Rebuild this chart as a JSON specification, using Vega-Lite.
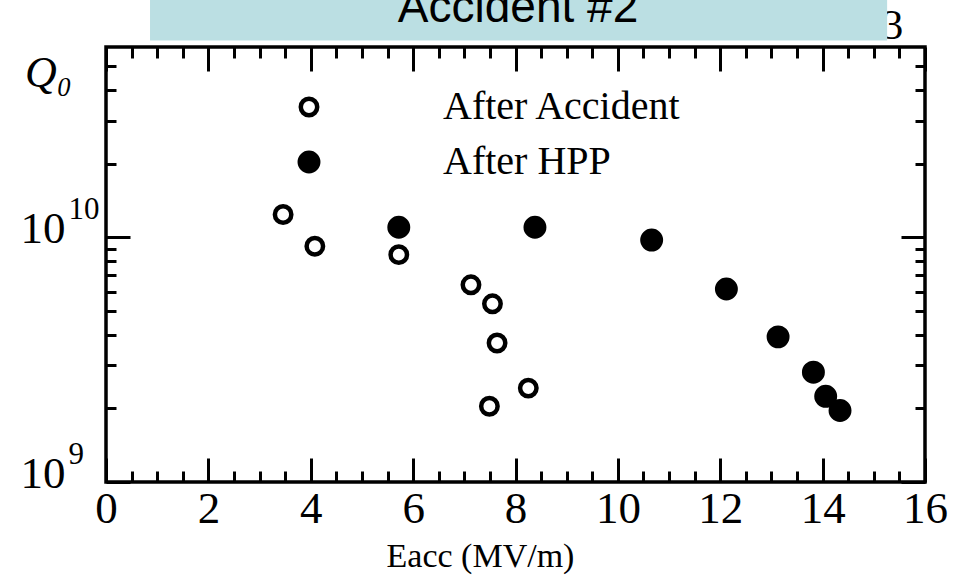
{
  "$schema": "https://vega.github.io/schema/vega-lite/v6.json",
  "width": 819,
  "height": 435,
  "autosize": {"type": "none"},
  "padding": {"left": 106, "top": 47, "right": 34, "bottom": 95},
  "background": "white",
  "config": {
    "view": {"stroke": "black", "strokeWidth": 3.5},
    "axis": {
      "grid": false,
      "domain": false,
      "labelFont": "Liberation Serif",
      "labelColor": "black",
      "labelFlush": false,
      "labelOverlap": false,
      "tickColor": "black",
      "tickWidth": 3,
      "titleFont": "Liberation Serif",
      "titleColor": "black",
      "titleFontWeight": "normal"
    }
  },
  "data": {
    "values": [
      {"E": 3.46, "Q0": 1.24e10, "series": "After Accident"},
      {"E": 4.08, "Q0": 9.2e9, "series": "After Accident"},
      {"E": 5.72, "Q0": 8.5e9, "series": "After Accident"},
      {"E": 7.13, "Q0": 6.4e9, "series": "After Accident"},
      {"E": 7.55, "Q0": 5.35e9, "series": "After Accident"},
      {"E": 7.64, "Q0": 3.7e9, "series": "After Accident"},
      {"E": 8.25, "Q0": 2.42e9, "series": "After Accident"},
      {"E": 7.49, "Q0": 2.04e9, "series": "After Accident"},
      {"E": 5.72, "Q0": 1.1e10, "series": "After HPP"},
      {"E": 8.38, "Q0": 1.1e10, "series": "After HPP"},
      {"E": 10.66, "Q0": 9.75e9, "series": "After HPP"},
      {"E": 12.12, "Q0": 6.15e9, "series": "After HPP"},
      {"E": 13.13, "Q0": 3.92e9, "series": "After HPP"},
      {"E": 13.82, "Q0": 2.81e9, "series": "After HPP"},
      {"E": 14.06, "Q0": 2.24e9, "series": "After HPP"},
      {"E": 14.34, "Q0": 1.96e9, "series": "After HPP"}
    ]
  },
  "resolve": {"axis": {"x": "independent", "y": "independent"}},
  "layer": [
    {
      "data": {"values": [{}]},
      "mark": {"type": "text", "text": "3", "font": "Liberation Serif", "fontSize": 42, "align": "center", "baseline": "alphabetic", "color": "black"},
      "encoding": {
        "x": {"datum": 15.37, "type": "quantitative", "axis": null},
        "y": {"datum": 6.45e10, "type": "quantitative", "axis": null}
      }
    },
    {
      "data": {"values": [{}]},
      "mark": {"type": "rect", "color": "#BBDFE3"},
      "encoding": {
        "x": {"datum": 0.86, "type": "quantitative", "axis": null},
        "x2": {"datum": 15.26},
        "y": {"datum": 6.375e10, "type": "quantitative", "axis": null},
        "y2": {"datum": 1.2e11}
      }
    },
    {
      "data": {"values": [{}]},
      "mark": {"type": "text", "text": "Accident #2", "font": "Liberation Sans", "fontSize": 46, "align": "center", "baseline": "alphabetic", "color": "black"},
      "encoding": {
        "x": {"datum": 8.05, "type": "quantitative", "axis": null},
        "y": {"datum": 7.6e10, "type": "quantitative", "axis": null}
      }
    },
    {
      "mark": {"type": "point", "shape": "circle", "filled": true, "strokeWidth": 4.5, "opacity": 1},
      "encoding": {
        "x": {
          "field": "E", "type": "quantitative",
          "scale": {"domain": [0, 16], "nice": false, "zero": false},
          "axis": {
            "orient": "bottom", "values": [0, 2, 4, 6, 8, 10, 12, 14, 16],
            "ticks": false, "labelFontSize": 45, "labelPadding": 4,
            "title": "Eacc (MV/m)", "titleFontSize": 34, "titleX": 374, "titleY": 84,
            "titleAlign": "center", "titleBaseline": "alphabetic"
          }
        },
        "y": {
          "field": "Q0", "type": "quantitative",
          "scale": {"type": "log", "domain": [1e9, 6e10], "nice": false},
          "axis": {
            "orient": "left", "values": [1e9, 1e10], "labelExpr": "'10'",
            "ticks": false, "labelFontSize": 45, "labelPadding": 41, "labelOffset": -9,
            "title": "Q₀", "titleAngle": 0, "titleX": -58, "titleY": 39,
            "titleFontSize": 44, "titleFontStyle": "italic",
            "titleAlign": "center", "titleBaseline": "alphabetic"
          }
        },
        "fill": {
          "field": "series", "type": "nominal",
          "scale": {"domain": ["After Accident", "After HPP"], "range": ["white", "black"]},
          "legend": {
            "orient": "none", "legendX": 183, "legendY": 40, "title": null,
            "padding": 0, "labelFont": "Liberation Serif", "labelFontSize": 40,
            "labelColor": "black", "labelOffset": 114, "labelLimit": 0, "rowPadding": 15,
            "symbolStrokeWidth": 4.5
          }
        },
        "stroke": {
          "field": "series", "type": "nominal",
          "scale": {"domain": ["After Accident", "After HPP"], "range": ["black", "black"]}
        },
        "size": {
          "field": "series", "type": "nominal",
          "scale": {"type": "ordinal", "domain": ["After Accident", "After HPP"], "range": [270, 340]}
        }
      }
    },
    {
      "mark": {"type": "point", "opacity": 0},
      "encoding": {
        "x": {"field": "E", "type": "quantitative",
          "axis": {"orient": "bottom", "values": [0, 2, 4, 6, 8, 10, 12, 14, 16], "labels": false, "tickSize": -24, "title": null}},
        "y": {"field": "Q0", "type": "quantitative",
          "axis": {"orient": "left", "values": [1e9, 1e10], "labels": false, "tickSize": -24, "title": null}}
      }
    },
    {
      "mark": {"type": "point", "opacity": 0},
      "encoding": {
        "x": {"field": "E", "type": "quantitative",
          "axis": {"orient": "bottom", "values": [0.5, 1, 1.5, 2.5, 3, 3.5, 4.5, 5, 5.5, 6.5, 7, 7.5, 8.5, 9, 9.5, 10.5, 11, 11.5, 12.5, 13, 13.5, 14.5, 15, 15.5], "labels": false, "tickSize": -11, "title": null}},
        "y": {"field": "Q0", "type": "quantitative",
          "axis": {"orient": "left", "values": [2e9, 3e9, 4e9, 5e9, 6e9, 7e9, 8e9, 9e9, 2e10, 3e10, 4e10, 5e10], "labels": false, "tickSize": -10, "title": null}}
      }
    },
    {
      "mark": {"type": "point", "opacity": 0},
      "encoding": {
        "x": {"field": "E", "type": "quantitative",
          "axis": {"orient": "top", "values": [0, 2, 4, 6, 8, 10, 12, 14, 16], "labels": false, "tickSize": -24, "title": null}},
        "y": {"field": "Q0", "type": "quantitative",
          "axis": {"orient": "right", "values": [1e9, 1e10], "labels": false, "tickSize": -24, "title": null}}
      }
    },
    {
      "mark": {"type": "point", "opacity": 0},
      "encoding": {
        "x": {"field": "E", "type": "quantitative",
          "axis": {"orient": "top", "values": [0.5, 1, 1.5, 2.5, 3, 3.5, 4.5, 5, 5.5, 6.5, 7, 7.5, 8.5, 9, 9.5, 10.5, 11, 11.5, 12.5, 13, 13.5, 14.5, 15, 15.5], "labels": false, "tickSize": -11, "title": null}},
        "y": {"field": "Q0", "type": "quantitative",
          "axis": {"orient": "right", "values": [2e9, 3e9, 4e9, 5e9, 6e9, 7e9, 8e9, 9e9, 2e10, 3e10, 4e10, 5e10], "labels": false, "tickSize": -10, "title": null}}
      }
    },
    {
      "mark": {"type": "point", "opacity": 0},
      "encoding": {
        "x": {"field": "E", "type": "quantitative", "axis": null},
        "y": {"field": "Q0", "type": "quantitative",
          "axis": {"orient": "left", "values": [1e9, 1e10], "labelExpr": "datum.value > 5e9 ? '10' : '9'",
            "ticks": false, "labelFontSize": 31, "labelAlign": "left", "labelPadding": 38, "labelOffset": -28, "title": null}}
      }
    }
  ]
}
